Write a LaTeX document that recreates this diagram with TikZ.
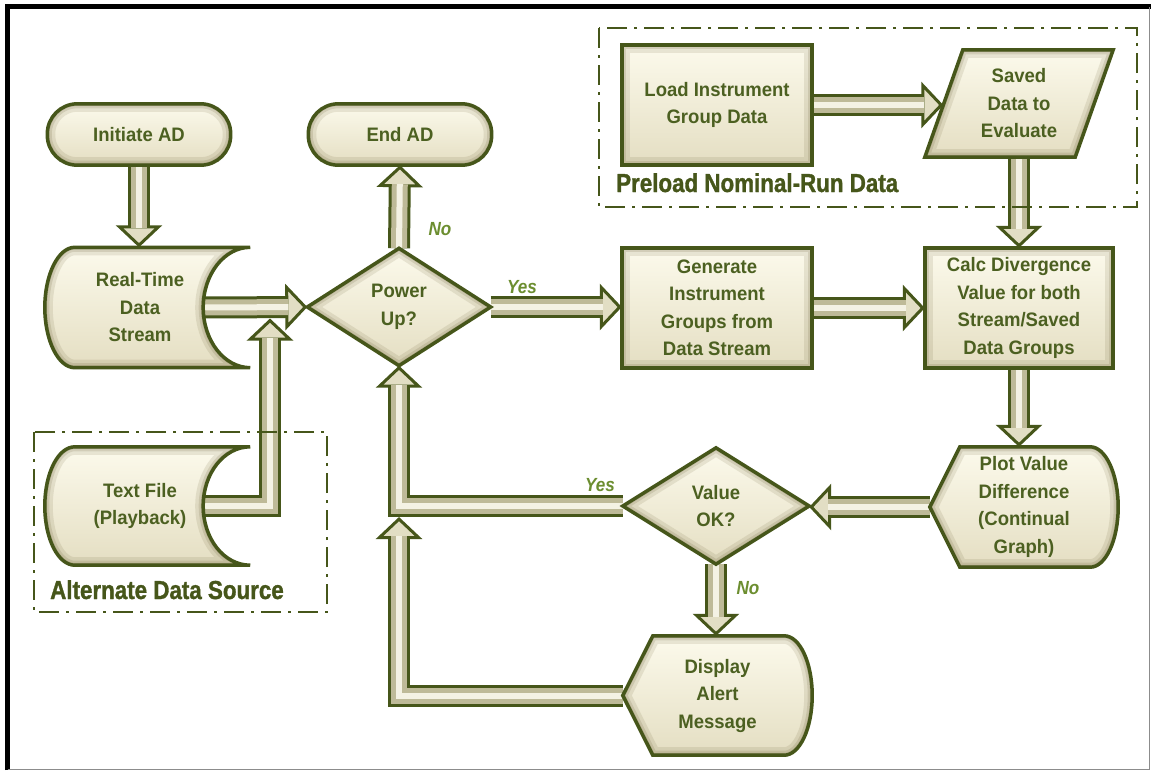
\documentclass[tikz,border=0pt]{standalone}
\usepackage{fontspec}
\setmainfont{Liberation Sans}[FakeStretch=0.95]
\newfontfamily\grpfont{Liberation Sans Bold}[FakeStretch=0.86, FakeBold=1.2]
\newfontfamily\ynfont{Liberation Sans}[FakeStretch=0.9]
\usetikzlibrary{arrows.meta}
\definecolor{olivedk}{RGB}{70,86,26}
\definecolor{txtcol}{RGB}{76,96,33}
\definecolor{yncol}{RGB}{108,142,48}
\definecolor{creamtop}{RGB}{252,250,236}
\definecolor{creambot}{RGB}{228,222,194}
\definecolor{bevelcol}{RGB}{115,105,65}
\definecolor{arrowmid}{RGB}{190,186,152}
\definecolor{arrowcore}{RGB}{244,242,228}
\definecolor{arrowfill}{RGB}{226,222,196}
\pgfdeclarelayer{arrowlayer}
\pgfdeclarelayer{shapelayer}
\pgfsetlayers{arrowlayer,shapelayer,main}
\newcommand\ndfont{\bfseries\fontsize{19.5pt}{27.5pt}\selectfont}
\newcommand\grplblfont{\grpfont\fontsize{26pt}{30pt}\selectfont}
\newcommand\ynlblfont{\ynfont\bfseries\itshape\fontsize{19pt}{22pt}\selectfont}
\newcommand\fshape[2][]{%
  \begin{scope}
    \clip[#1] #2;
    \shade[#1, top color=creamtop, bottom color=creambot] #2;
    \draw[#1, draw=bevelcol, line width=16pt, opacity=0.14] #2;
    \draw[#1, draw=bevelcol, line width=9pt, opacity=0.18] #2;
    \draw[#1, draw=bevelcol, line width=4.5pt, opacity=0.25] #2;
  \end{scope}
  \draw[#1, draw=olivedk, line width=3.5pt, line join=miter] #2;}
\newcommand\storedshape[1]{\fshape{([xshift=30pt]#1.north west) -- ([xshift=15pt]#1.north east) .. controls ([xshift=-11pt]#1.north east) and ([xshift=-32pt,yshift=33pt]#1.east) .. ([xshift=-32pt]#1.east) .. controls ([xshift=-32pt,yshift=-33pt]#1.east) and ([xshift=-11pt]#1.south east) .. ([xshift=15pt]#1.south east) -- ([xshift=30pt]#1.south west) .. controls ([xshift=13.4pt]#1.south west) and ([yshift=-33pt]#1.west) .. (#1.west) .. controls ([yshift=33pt]#1.west) and ([xshift=13.4pt]#1.north west) .. cycle}}
\newcommand\dispshape[1]{\fshape{(#1.west) -- ([xshift=30pt]#1.north west) -- ([xshift=-28pt]#1.north east) .. controls ([xshift=-12.5pt]#1.north east) and ([yshift=33pt]#1.east) .. (#1.east) .. controls ([yshift=-33pt]#1.east) and ([xshift=-12.5pt]#1.south east) .. ([xshift=-28pt]#1.south east) -- ([xshift=30pt]#1.south west) -- cycle}}
\newcommand\flowarrow[1]{\draw[aouter] #1; \draw[amid] #1; \draw[acore] #1;}
\begin{document}
\begin{tikzpicture}[x=1pt,y=-1pt,
  ntext/.style={align=center, text=txtcol, font=\ndfont, inner sep=0pt},
  grplabel/.style={text=olivedk, font=\grplblfont, inner sep=0pt},
  yn/.style={text=yncol, font=\ynlblfont, inner sep=0pt},
  grpframe/.style={draw=olivedk, line width=2.5pt, dash pattern=on 20pt off 7pt on 3pt off 7pt},
  aouter/.style={line width=22pt, draw=olivedk, line join=miter,
    -{Triangle[length=22pt 0 0, width=46pt 0 0, line width=3pt 0 0, fill=arrowfill, color=olivedk]}},
  amid/.style={line width=16pt, draw=arrowmid, line join=miter, shorten >=19pt},
  acore/.style={line width=6pt, draw=arrowcore, line join=miter, shorten >=19pt}]
\useasboundingbox (0,0) rectangle (1151,772);
\begin{pgfonlayer}{arrowlayer}
  \fill[white] (0,0) rectangle (1151,772);
\end{pgfonlayer}
% frame
\draw[line width=5pt] (7.5,770) -- (7.5,6.5) -- (1151,6.5);
\draw[black!45, line width=1.5pt] (7.5,769.5) -- (1149.5,769.5) -- (1149.5,6.5);
% nodes (text)
\node[ntext, minimum width=183pt, minimum height=61pt] (init) at (139,134.5) {Initiate AD};
\node[ntext, minimum width=183pt, minimum height=61pt] (endad) at (400,134.5) {End AD};
\node[ntext, minimum width=190pt, minimum height=120pt] (rt) at (140,307.5) {Real-Time\\Data\\Stream};
\node[ntext, minimum width=190pt, minimum height=118pt] (tf) at (140,506) {Text File\\(Playback)};
\node[ntext, minimum width=183pt, minimum height=117pt] (pwr) at (399,307) {Power\\Up?};
\node[ntext, minimum width=190pt, minimum height=120pt] (gen) at (717,308) {Generate\\Instrument\\Groups from\\Data Stream};
\node[ntext, minimum width=188pt, minimum height=120pt] (calc) at (1019,308) {Calc Divergence\\Value for both\\Stream/Saved\\Data Groups};
\node[ntext, minimum width=190pt, minimum height=120pt] (load) at (717,105) {Load Instrument\\Group Data};
\node[ntext, minimum width=188pt, minimum height=107pt] (saved) at (1019,103.5) {Saved\\Data to\\Evaluate};
\node[ntext, minimum width=188pt, minimum height=120pt] (plot) at (1024,507) {Plot Value\\Difference\\(Continual\\Graph)};
\node[ntext, minimum width=186pt, minimum height=116pt] (vok) at (716,506) {Value\\OK?};
\node[ntext, minimum width=189pt, minimum height=119pt] (disp) at (717.5,695.5) {Display\\Alert\\Message};
% labels
\node[grplabel, anchor=base west] (lblpre) at (616,192) {Preload Nominal-Run Data};
\node[grplabel, anchor=base west] (lblalt) at (50,599) {Alternate Data Source};
\node[yn] (yes1) at (522,287) {Yes};
\node[yn] (no1) at (440,229) {No};
\node[yn] (yes2) at (600,485) {Yes};
\node[yn] (no2) at (748,588) {No};
% group frames
\draw[grpframe] (599,28) rectangle (1137,207);
\draw[grpframe] (34,432) rectangle (327,612);
% shapes
\begin{pgfonlayer}{shapelayer}
  \fshape[rounded corners=30pt]{(init.north west) rectangle (init.south east)}
  \fshape[rounded corners=30pt]{(endad.north west) rectangle (endad.south east)}
  \storedshape{rt}
  \storedshape{tf}
  \fshape{(pwr.north) -- (pwr.east) -- (pwr.south) -- (pwr.west) -- cycle}
  \fshape{(vok.north) -- (vok.east) -- (vok.south) -- (vok.west) -- cycle}
  \fshape{(gen.north west) rectangle (gen.south east)}
  \fshape{(calc.north west) rectangle (calc.south east)}
  \fshape{(load.north west) rectangle (load.south east)}
  \fshape{([xshift=38pt]saved.north west) -- (saved.north east) -- ([xshift=-38pt]saved.south east) -- (saved.south west) -- cycle}
  \dispshape{plot}
  \dispshape{disp}
\end{pgfonlayer}
% connectors
\coordinate (j1) at (270,318.5);
\coordinate (j2) at ([yshift=-11pt]vok.west -| pwr.south);
\begin{pgfonlayer}{arrowlayer}
  \flowarrow{(init.south) -- (init.south |- rt.north)}
  \flowarrow{([xshift=-32pt]tf.east) -| (j1)}
  \flowarrow{([xshift=-32pt]rt.east) -- (pwr.west)}
  \flowarrow{(pwr.north) -- (endad.south)}
  \flowarrow{(pwr.east) -- (pwr.east -| gen.west)}
  \flowarrow{(gen.east) -- (gen.east -| calc.west)}
  \flowarrow{(load.east) -- ([xshift=18.5pt]load.east -| saved.west)}
  \flowarrow{(saved.south) -- (calc.north)}
  \flowarrow{(calc.south) -- (calc.south |- plot.north)}
  \flowarrow{(plot.west) -- (plot.west -| vok.east)}
  \flowarrow{(vok.south) -- (vok.south |- disp.north)}
  \flowarrow{(disp.west) -| (j2)}
  \flowarrow{(vok.west) -| (pwr.south)}
\end{pgfonlayer}
\end{tikzpicture}
\end{document}
